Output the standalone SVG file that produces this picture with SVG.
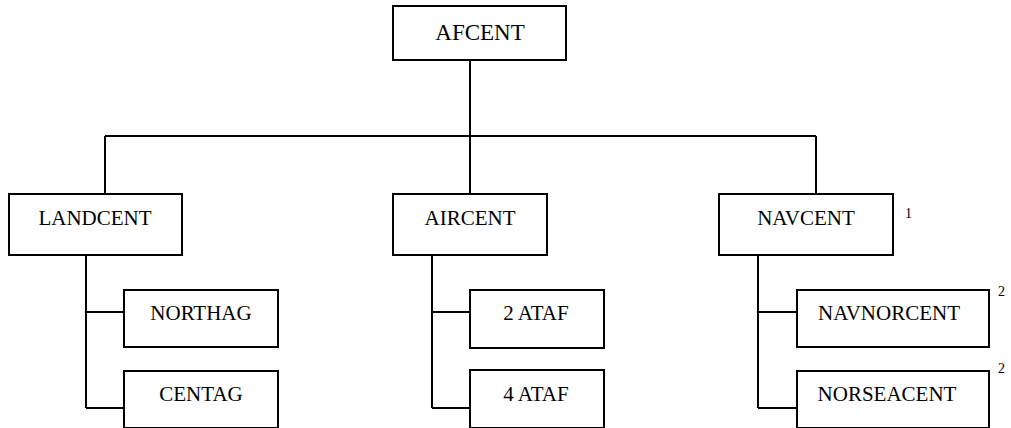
<svg xmlns="http://www.w3.org/2000/svg" width="1011" height="428" viewBox="0 0 1011 428">
<style>
.box{fill:#fff;stroke:#000;stroke-width:2}
.lbl{font-family:"Liberation Serif","Times New Roman",serif;font-size:21px;fill:#000;text-anchor:middle}
.sup{font-family:"Liberation Serif","Times New Roman",serif;font-size:14px;fill:#000}
.con{stroke:#000;stroke-width:2;fill:none}
</style>
<rect width="1011" height="428" fill="#fff"/>
<g id="connectors">
<path class="con" d="M470,60V136M105,136H816M105,136V194M470,136V194M816,136V194"/>
<path class="con" d="M86,255V408M86,312H124M86,408H124"/>
<path class="con" d="M432,255V408M432,312H470M432,408H470"/>
<path class="con" d="M758,255V408M758,312H797M758,408H797"/>
</g>
<g id="afcent"><rect class="box" x="393" y="6" width="173" height="54"/><text class="lbl" x="480" y="40" style="font-size:23px">AFCENT</text></g>
<g id="landcent"><rect class="box" x="9" y="194" width="173" height="61"/><text class="lbl" x="95" y="225">LANDCENT</text></g>
<g id="aircent"><rect class="box" x="393" y="194" width="154" height="61"/><text class="lbl" x="470" y="225">AIRCENT</text></g>
<g id="navcent"><rect class="box" x="719" y="194" width="174" height="61"/><text class="lbl" x="806" y="225">NAVCENT</text><text class="sup" x="905" y="218">1</text></g>
<g id="northag"><rect class="box" x="124" y="290" width="154" height="57"/><text class="lbl" x="201" y="320">NORTHAG</text></g>
<g id="centag"><rect class="box" x="124" y="371" width="154" height="57"/><text class="lbl" x="201" y="401">CENTAG</text></g>
<g id="ataf2"><rect class="box" x="470" y="290" width="134" height="58"/><text class="lbl" x="536" y="320">2 ATAF</text></g>
<g id="ataf4"><rect class="box" x="470" y="370" width="134" height="58"/><text class="lbl" x="536" y="401">4 ATAF</text></g>
<g id="navnorcent"><rect class="box" x="797" y="290" width="192" height="57"/><text class="lbl" x="889" y="320">NAVNORCENT</text><text class="sup" x="998" y="296">2</text></g>
<g id="norseacent"><rect class="box" x="797" y="371" width="192" height="57"/><text class="lbl" x="887" y="401">NORSEACENT</text><text class="sup" x="998" y="373">2</text></g>
</svg>
